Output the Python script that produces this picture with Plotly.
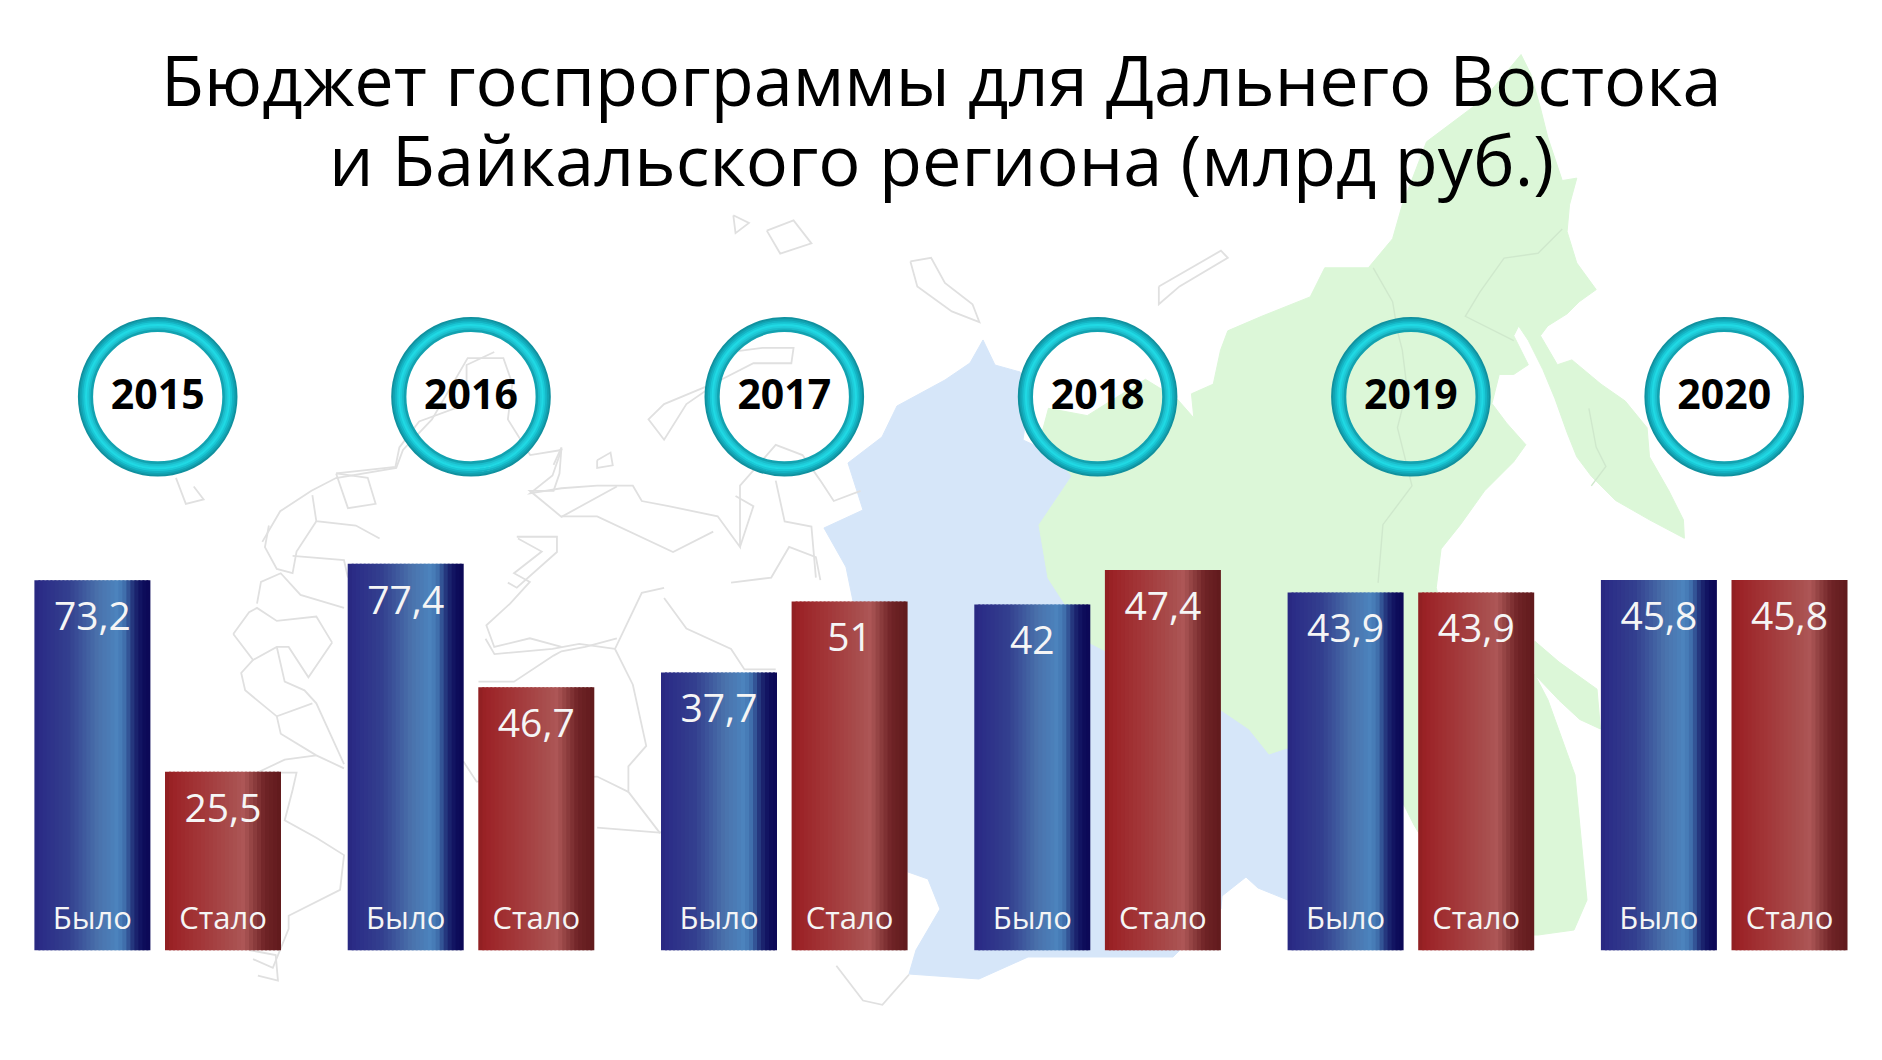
import plotly.graph_objects as go

WIDTH = 1882
HEIGHT = 1060

years = ["2015", "2016", "2017", "2018", "2019", "2020"]
# printed figures
was_labels = ["73,2", "77,4", "37,7", "42", "43,9", "45,8"]
now_labels = ["25,5", "46,7", "51", "47,4", "43,9", "45,8"]
# the infographic does not draw its bars to one scale, so heights are read off the picture
was_heights = [370.3, 386.8, 278.2, 346.0, 358.2, 370.6]
now_heights = [178.8, 263.4, 349.1, 380.7, 358.2, 370.6]

title_lines = ["Бюджет госпрограммы для Дальнего Востока", "и Байкальского региона (млрд руб.)"]

FONT = "Open Sans"
GROUP_PITCH = 313.3
BAR_W = 116.0
BAR_OFFSET = 65.3
BASELINE = 950.6
GROUP0_X = 157.7
STRIP = 4.0

blue_stops = [(0, "#27287f"), (0.04, "#2b2b86"), (0.3, "#33408f"), (0.55, "#4a72ac"), (0.72, "#4c84be"),
              (0.78, "#3f6dab"), (0.86, "#1f2a74"), (0.93, "#0e0e5c"), (1, "#0c0755")]
red_stops = [(0, "#8e1f22"), (0.06, "#9b2226"), (0.3, "#a23638"), (0.6, "#a9504f"), (0.68, "#ad5757"),
             (0.76, "#8f4040"), (0.86, "#6f2326"), (1, "#601a1c")]
ring_stops = [(0, "#10919f"), (0.3, "#14b6c6"), (0.55, "#20dbe6"), (0.8, "#1ec6d4"), (1, "#12a2b0")]


def mix(stops, t):
    for (p0, c0), (p1, c1) in zip(stops, stops[1:]):
        if t <= p1:
            f = (t - p0) / (p1 - p0)
            rgb = [round(int(c0[i:i + 2], 16) * (1 - f) + int(c1[i:i + 2], 16) * f) for i in (1, 3, 5)]
            return "rgb({},{},{})".format(*rgb)
    return stops[-1][1]


def crop(points, ox, oy, w, h):
    # outlines were traced on zoomed crops of the picture
    return [(ox + px * w / 1568, oy + py * h / 1568) for px, py in points]


def z8(points):
    return crop(points, 240, 200, 700, 800)


def z6(points):
    return crop(points, 1000, 40, 760, 760)


def z7(points):
    return crop(points, 800, 350, 760, 680)


def z2(points):
    return crop(points, 800, 40, 1082, 560)


def z1(points):
    return crop(points, 0, 300, 620, 680)


def path(points, closed=False):
    cmds = []
    for i, (px, py) in enumerate(points):
        cmds.append("{} {:.5f} {:.5f}".format("M" if i == 0 else "L", px / WIDTH, 1 - py / HEIGHT))
    return " ".join(cmds) + (" Z" if closed else "")


# background map, only a rough trace
green_area = z6([(1075, 30), (1095, 70), (1115, 140), (1130, 200), (1160, 290), (1190, 285), (1175, 340), (1170, 395),
                 (1190, 460), (1230, 515), (1195, 540), (1170, 565), (1130, 590), (1115, 610), (1150, 670), (1180, 660),
                 (1240, 710), (1290, 745), (1335, 800), (1340, 860), (1380, 930), (1410, 990), (1412, 1028), (1340, 990),
                 (1270, 950), (1220, 900), (1190, 860), (1170, 810), (1145, 740), (1120, 680), (1090, 620), (1070, 590),
                 (1060, 610), (1090, 670), (1060, 690), (1030, 690), (1015, 750), (1045, 790), (1085, 835), (1060, 870),
                 (1000, 930), (950, 1000), (910, 1050), (900, 1130), (905, 1150)])
green_area += [(1535, 675), (1548, 700), (1575, 775), (1587, 900), (1574, 930), (1538, 935), (1480, 935), (1414, 825),
               (1404, 805), (1287, 748), (1269, 754), (1249, 729), (1221, 710), (1090, 643), (1048, 578), (1039, 525),
               (1072, 476), (1040, 440)]
green_area += z6([(100, 760), (180, 775), (300, 700), (365, 740), (400, 780), (395, 730), (440, 710), (455, 640), (470, 600),
                  (540, 570), (640, 530), (670, 470), (760, 470), (810, 410), (830, 340), (880, 210), (1000, 120)])
sakhalin = crop([(1065, 255), (1100, 320), (1155, 405), (1160, 530), (1130, 500), (1100, 440), (1065, 360)], 800, 560, 1082, 500)
blue_area = [(983, 340), (995, 365), (1020, 372), (1030, 390), (1023, 440), (1045, 450), (1072, 476), (1039, 525), (1048, 578),
             (1090, 643), (1221, 710), (1249, 729), (1269, 754), (1287, 748), (1300, 750), (1300, 905), (1258, 888),
             (1246, 877), (1222, 896), (1221, 909), (1173, 957), (1028, 957), (979, 979), (909, 974), (916, 950),
             (940, 909), (928, 879), (908, 872), (908, 700), (853, 601), (846, 567), (824, 528), (863, 510), (848, 463),
             (882, 437), (897, 406), (945, 380), (970, 363)]

gray_lines = [
    z8([(50, 670), (90, 610), (160, 570), (215, 545), (350, 525), (365, 490), (430, 430), (510, 310), (590, 310), (610, 360),
        (600, 430), (650, 500), (720, 490), (700, 540), (650, 575), (720, 565), (800, 560), (880, 560), (900, 590), (960, 600),
        (1070, 620), (1120, 680), (1120, 560), (1200, 480), (1260, 500), (1300, 550), (1330, 590), (1390, 570)]),
    z8([(720, 620), (800, 620), (970, 690), (1060, 650)]),
    z8([(620, 660), (710, 660), (710, 690), (620, 760), (600, 750)]),
    z8([(950, 760), (900, 770), (840, 880), (880, 950), (910, 1070), (870, 1110), (870, 1160), (940, 1240), (1100, 1200)]),
    z8([(950, 780), (1000, 840), (1100, 880), (1130, 920), (1200, 920)]),
    z8([(1100, 750), (1190, 740), (1230, 680), (1290, 700), (1300, 745)]),
    z8([(550, 860), (570, 890), (700, 880), (760, 870), (840, 880)]),
    z8([(500, 1100), (530, 1140), (800, 1130), (870, 1160)]),
    z8([(800, 1230), (940, 1240)]),
    z8([(1110, 580), (1150, 600), (1120, 680)]),
    z8([(1200, 550), (1220, 630), (1280, 640), (1290, 740)]),
    z8([(1080, 300), (1170, 290), (1240, 290), (1235, 320), (1150, 320), (1060, 360), (950, 400), (915, 430), (950, 470),
        (1000, 400), (1050, 370), (1080, 300)]),
    z8([(800, 510), (830, 495), (835, 520), (800, 525), (800, 510)]),
    z8([(1105, 30), (1140, 45), (1110, 65), (1105, 30)]),
    z8([(1180, 60), (1240, 40), (1280, 85), (1210, 105), (1180, 60)]),
    z8([(20, 1470), (80, 1480), (85, 1530), (40, 1520)]),
    z1([(445, 410), (470, 470), (515, 460), (490, 430)]),
    z1([(650, 1090), (750, 1090), (740, 1130), (720, 1200), (800, 1240), (870, 1280), (860, 1360), (730, 1420), (730, 1450),
        (690, 1540), (640, 1520)]),
    z1([(850, 400), (930, 410), (950, 470), (880, 480), (850, 400)]),
    z1([(790, 450), (800, 510), (900, 520), (960, 550)]),
    z1([(680, 520), (670, 570), (700, 620), (740, 630), (750, 580), (800, 510)]),
    z1([(740, 590), (870, 600), (880, 640)]),
    z1([(650, 700), (660, 650), (710, 630), (760, 680), (870, 710)]),
    z1([(590, 770), (630, 720), (650, 710), (700, 740), (800, 730), (840, 790)]),
    z1([(590, 770), (640, 830), (610, 860), (620, 900), (700, 960), (790, 930)]),
    z1([(640, 830), (700, 800), (730, 800), (780, 870), (840, 790)]),
    z1([(700, 800), (720, 880), (770, 900), (800, 930), (870, 1070)]),
    z1([(700, 960), (710, 1000), (800, 1050), (870, 1080)]),
    z1([(650, 1090), (720, 1060), (800, 1050)]),
    z1([(1250, 120), (1180, 150), (1180, 240), (1060, 280), (1010, 340), (1000, 385), (850, 400)]),
    z1([(1310, 550), (1370, 580), (1300, 630), (1340, 650), (1290, 700), (1230, 750), (1250, 800), (1340, 780), (1420, 800)]),
    z1([(1210, 880), (1300, 880), (1400, 820), (1420, 810), (1480, 800), (1560, 780)]),
    z1([(1400, 380), (1420, 340), (1415, 400), (1400, 440), (1340, 440), (1420, 500), (1560, 430)]),
    z2([(160, 620), (190, 610), (210, 680), (250, 740), (260, 790), (220, 760), (170, 690), (160, 620)]),
    z2([(520, 690), (610, 590), (620, 610), (550, 690), (520, 740), (520, 690)]),
    z7([(75, 1420), (130, 1500), (170, 1510), (225, 1440)]),
]
green_borders = [
    z6([(770, 470), (810, 540), (820, 600), (830, 640), (840, 720), (820, 800), (850, 920), (790, 1000), (780, 1120)]),
    z6([(1160, 390), (1110, 440), (1040, 450), (990, 520), (960, 570), (1060, 620)]),
    z6([(1215, 760), (1230, 840), (1250, 880), (1220, 920)]),
]

shapes = []
for pts, color in [(blue_area, "#d6e6f9"), (green_area, "#dcf7d8"), (sakhalin, "#dcf7d8")]:
    shapes.append(dict(type="path", xref="paper", yref="paper", path=path(pts, True), fillcolor=color,
                       line=dict(color=color, width=1), layer="below"))
for pts in gray_lines:
    shapes.append(dict(type="path", xref="paper", yref="paper", path=path(pts), line=dict(color="#e0e0e0", width=1.8),
                       layer="below"))
for pts in green_borders:
    shapes.append(dict(type="path", xref="paper", yref="paper", path=path(pts), line=dict(color="#cfe8cc", width=1.4),
                       layer="below"))

fig = go.Figure()

# bars: strips overlap the next one by a little so no seams show
n_strips = int(BAR_W / STRIP)
for heights, offset, stops in [(was_heights, -BAR_OFFSET, blue_stops), (now_heights, BAR_OFFSET, red_stops)]:
    for s in range(n_strips):
        left = offset - BAR_W / 2 + s * STRIP
        right = min(left + STRIP * 1.5, offset + BAR_W / 2)
        fig.add_trace(go.Bar(
            x=[i + (left + right) / 2 / GROUP_PITCH for i in range(len(years))],
            y=heights,
            width=(right - left) / GROUP_PITCH,
            marker=dict(color=mix(stops, (s + 0.5) / n_strips), line=dict(width=0)),
            hoverinfo="skip",
        ))

# year rings
ring_y = [BASELINE - 396.7] * len(years)
ring_x = list(range(len(years)))
for k in range(8):
    color = mix(ring_stops, k / 7)
    fig.add_trace(go.Scatter(
        x=ring_x, y=ring_y, mode="markers",
        marker=dict(symbol="circle-open", size=2 * (78.5 - k * 1.8), color=color, line=dict(color=color, width=2.6)),
        hoverinfo="skip",
    ))

fig.add_trace(go.Scatter(
    x=ring_x, y=[v - 2.5 for v in ring_y], mode="text", text=years, textposition="middle center",
    textfont=dict(family=FONT, size=41, color="#000000", weight="bold"), hoverinfo="skip",
))

# value and caption labels
for heights, labels, caption, offset in [(was_heights, was_labels, "Было", -BAR_OFFSET),
                                         (now_heights, now_labels, "Стало", BAR_OFFSET)]:
    xs = [i + offset / GROUP_PITCH for i in range(len(years))]
    fig.add_trace(go.Scatter(
        x=xs, y=[h - 40 for h in heights], mode="text", text=labels, textposition="middle center",
        textfont=dict(family=FONT, size=39, color="#f5f5f5"), hoverinfo="skip",
    ))
    fig.add_trace(go.Scatter(
        x=xs, y=[BASELINE - 921] * len(years), mode="text", text=[caption] * len(years), textposition="middle center",
        textfont=dict(family=FONT, size=31, color="#f5f5f5"), hoverinfo="skip",
    ))

annotations = []
for line, cy in zip(title_lines, [79, 159]):
    annotations.append(dict(
        text=line, x=941 / WIDTH, y=1 - cy / HEIGHT, xref="paper", yref="paper", xanchor="center", yanchor="middle",
        showarrow=False, font=dict(family=FONT, size=70.3, color="#000000"),
    ))

fig.update_layout(
    width=WIDTH,
    height=HEIGHT,
    margin=dict(l=0, r=0, t=0, b=0),
    paper_bgcolor="#ffffff",
    plot_bgcolor="rgba(0,0,0,0)",
    barmode="overlay",
    showlegend=False,
    shapes=shapes,
    annotations=annotations,
    xaxis=dict(visible=False, range=[-GROUP0_X / GROUP_PITCH, (WIDTH - GROUP0_X) / GROUP_PITCH], fixedrange=True),
    yaxis=dict(visible=False, range=[0, BASELINE], domain=[1 - BASELINE / HEIGHT, 1], fixedrange=True),
)

fig.write_html("out.html", post_script="document.body.style.margin='0';", config={"displayModeBar": False})
